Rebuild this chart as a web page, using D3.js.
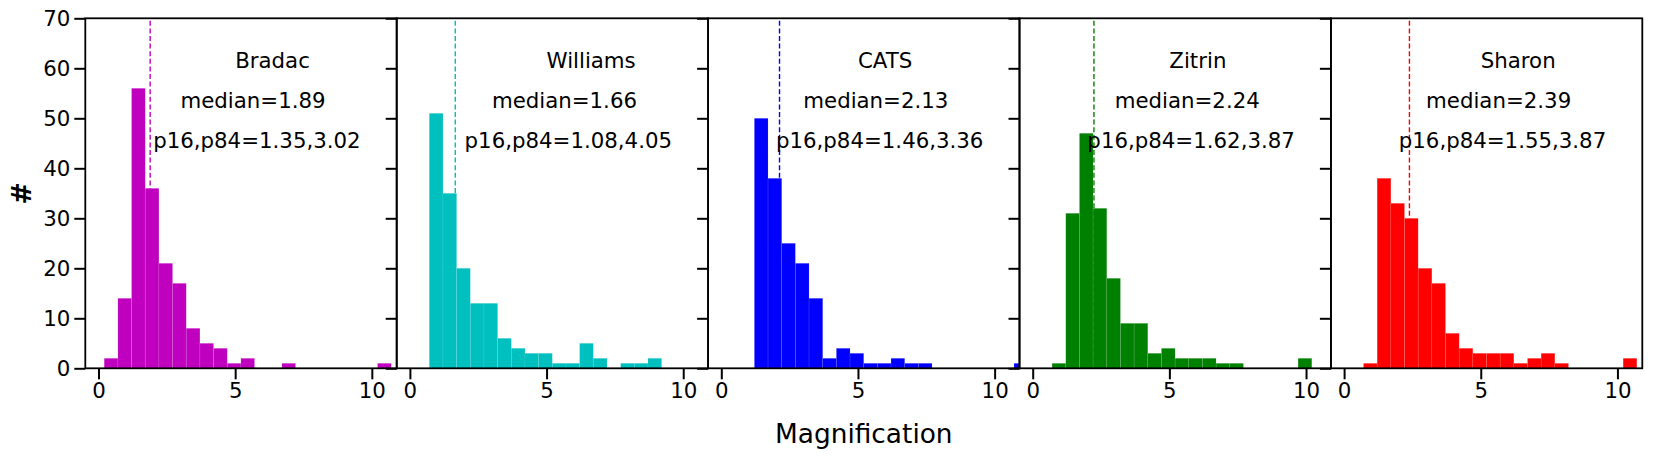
<!DOCTYPE html>
<html>
<head>
<meta charset="utf-8">
<script src="https://cdn.jsdelivr.net/npm/d3@7"></script>
<style>
  body { margin: 0; background: #fff; }
  svg { display: block; font-family: "DejaVu Sans", sans-serif; }
</style>
</head>
<body>
<div id="chart"></div>
<script>
// shared histogram bins: 22 bins of width 0.5 starting at 0.21
const binStart = 0.21;
const binWidth = 0.5;

const models = ["Bradac", "Williams", "CATS", "Zitrin", "Sharon"];
const colors = ["#bf00bf", "#00bfbf", "#0000ff", "#008000", "#ff0000"];

const bradacCounts   = [2, 14, 56, 36, 21, 17, 8, 5, 4, 1, 2, 0, 0, 1, 0, 0, 0, 0, 0, 0, 1, 0];
const williamsCounts = [0, 51, 35, 20, 13, 13, 6, 4, 3, 3, 1, 1, 5, 2, 0, 1, 1, 2, 0, 0, 0, 0];
const catsCounts     = [0, 0, 50, 38, 25, 21, 14, 2, 4, 3, 1, 1, 2, 1, 1, 0, 0, 0, 0, 0, 0, 1];
const zitrinCounts   = [0, 1, 31, 47, 32, 18, 9, 9, 3, 4, 2, 2, 2, 1, 1, 0, 0, 0, 0, 2, 0, 0];
const sharonCounts   = [0, 1, 38, 33, 30, 20, 17, 7, 4, 3, 3, 3, 1, 2, 3, 1, 0, 0, 0, 0, 2, 0];
const counts = [bradacCounts, williamsCounts, catsCounts, zitrinCounts, sharonCounts];

const medians = [1.89, 1.66, 2.13, 2.24, 2.39];
const p16 = ["1.35", "1.08", "1.46", "1.62", "1.55"];
const p84 = ["3.02", "4.05", "3.36", "3.87", "3.87"];

const xTicks = [0, 5, 10];
const yTicks = [0, 10, 20, 30, 40, 50, 60, 70];

const width = 1661;
const height = 457;
const margin = { top: 18.3, left: 85.3, right: 18.7, bottom: 88.7 };
const panelW = (width - margin.left - margin.right) / models.length;
const panelH = height - margin.top - margin.bottom;
const fontSize = 21.3;

const svg = d3.select("#chart")
  .append("svg")
  .attr("width", width)
  .attr("height", height);

const x = d3.scaleLinear().domain([-0.483, 10.91]).range([0, panelW]);
const y = d3.scaleLinear().domain([0, 70]).range([panelH, 0]);

models.forEach((name, i) => {
  const g = svg.append("g")
    .attr("transform", `translate(${margin.left + i * panelW}, ${margin.top})`);

  g.append("clipPath").attr("id", `clip${i}`)
    .append("rect").attr("width", panelW).attr("height", panelH);

  const plot = g.append("g").attr("clip-path", `url(#clip${i})`);

  // median line, behind the bars
  plot.append("line")
    .attr("x1", x(medians[i])).attr("x2", x(medians[i]))
    .attr("y1", y(70) + 2.5).attr("y2", y(0))
    .attr("stroke", colors[i])
    .attr("stroke-width", 1.4)
    .attr("stroke-dasharray", "5,2.6");

  const bins = counts[i].map((c, k) => ({
    x0: binStart + k * binWidth,
    x1: binStart + (k + 1) * binWidth,
    n: c
  })).filter(d => d.n > 0);

  plot.selectAll("rect.bar")
    .data(bins)
    .join("rect")
    .attr("class", "bar")
    .attr("x", d => x(d.x0))
    .attr("width", d => x(d.x1) - x(d.x0))
    .attr("y", d => y(d.n))
    .attr("height", d => y(0) - y(d.n))
    .attr("fill", colors[i])
    .attr("stroke", "#fff")
    .attr("stroke-opacity", 0.13)
    .attr("stroke-width", 0.7);

  // annotations
  const notes = [
    { tx: 5, ty: 60, text: name },
    { tx: 3, ty: 52, text: `median=${medians[i].toFixed(2)}` },
    { tx: 2, ty: 44, text: `p16,p84=${p16[i]},${p84[i]}` }
  ];
  g.selectAll("text.note")
    .data(notes)
    .join("text")
    .attr("class", "note")
    .attr("x", d => x(d.tx))
    .attr("y", d => y(d.ty))
    .attr("font-size", fontSize)
    .attr("fill", "#000")
    .text(d => d.text);

  // axes
  const xAxis = d3.axisBottom(x).tickValues(xTicks).tickFormat(d3.format("d"))
    .tickSize(11).tickPadding(4);
  const yAxis = d3.axisLeft(y).tickValues(yTicks).tickSize(11).tickPadding(4);
  if (i > 0) yAxis.tickFormat("");

  const gx = g.append("g").attr("transform", `translate(0, ${panelH})`).call(xAxis);
  const gy = g.append("g").call(yAxis);
  [gx, gy].forEach(a => {
    a.select(".domain").remove();
    a.selectAll(".tick line").attr("stroke", "#000").attr("stroke-width", 2);
    a.selectAll(".tick text")
      .attr("font-size", fontSize)
      .attr("font-family", "DejaVu Sans, sans-serif")
      .attr("fill", "#000");
  });

  g.append("rect")
    .attr("width", panelW).attr("height", panelH)
    .attr("fill", "none")
    .attr("stroke", "#000")
    .attr("stroke-width", 1.8);
});

svg.append("text")
  .attr("transform", `translate(31, ${margin.top + panelH / 2}) rotate(-90)`)
  .attr("text-anchor", "middle")
  .attr("font-size", 26.7)
  .attr("font-weight", "bold")
  .text("#");

svg.append("text")
  .attr("x", margin.left + panelW * models.length / 2)
  .attr("y", 442.5)
  .attr("text-anchor", "middle")
  .attr("font-size", 26.4)
  .text("Magnification");
</script>
</body>
</html>
